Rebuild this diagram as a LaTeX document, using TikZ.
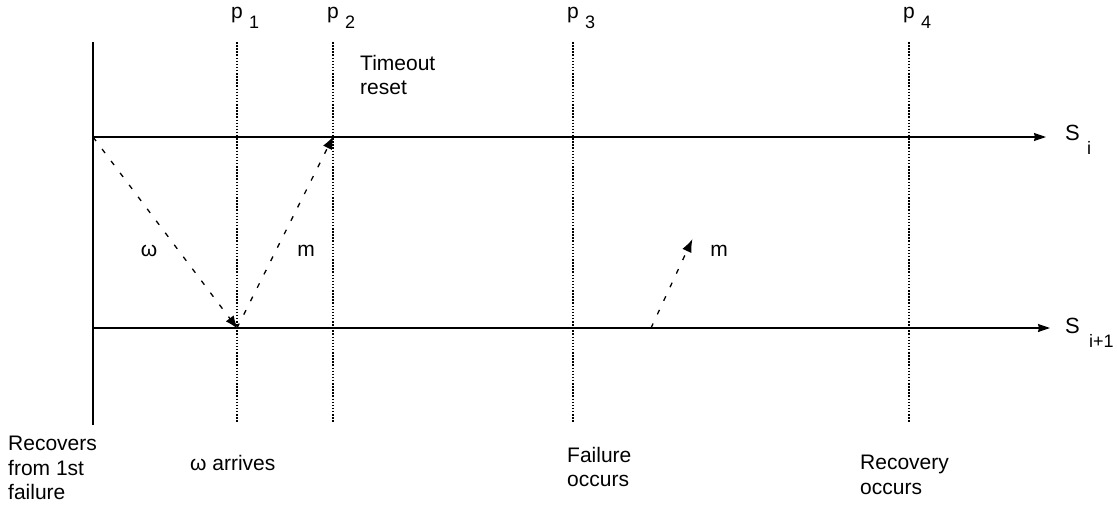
\documentclass[tikz,border=0pt]{standalone}
\usepackage{fontspec}
\setmainfont{Liberation Sans}
\usetikzlibrary{arrows.meta}
\begin{document}
\begin{tikzpicture}[x=1pt,y=-1pt,
  txt/.style={font=\fontsize{21}{24.5}\selectfont, inner sep=0pt, align=left},
  small/.style={font=\fontsize{18}{20}\selectfont, inner sep=0pt},
  timeline/.style={line width=1.3pt, -{Stealth[length=12pt,width=8pt,inset=1pt]}},
  procline/.style={line width=1.3pt, dash pattern=on 1.5pt off 1.6pt},
  msg/.style={line width=1.3pt, dash pattern=on 5pt off 10pt, -{Latex[length=13pt,width=10pt,sep=-1pt]}}]
\useasboundingbox (0,0) rectangle (1117,514);

% process boundary and observation instants
\draw[line width=1.3pt] (93,42) -- (93,425);
\foreach \n/\x in {1/237,2/333,3/573,4/909}{
  \draw[procline] (\x,42) -- (\x,422);
  \node[txt, anchor=base] (p\n) at (\x,19) {p};
  \node[small, anchor=base west] (p\n sub) at (\x+12,28) {\n};
}

% servers
\coordinate (si0) at (93,137);
\coordinate (si1) at (1046,137);
\coordinate (sj0) at (93,328);
\coordinate (sj1) at (1050,328);
\draw[timeline] (si0) -- (si1);
\draw[timeline] (sj0) -- (sj1);
\node[txt, anchor=base west, font=\fontsize{22}{24}\selectfont] (Si) at (1065,140) {S};
\node[small, anchor=base west] (Sisub) at (1087,154) {i};
\node[txt, anchor=base west, font=\fontsize{22}{24}\selectfont] (Sj) at (1065,333) {S};
\node[small, anchor=base west] (Sjsub) at (1089,347) {i+1};

% messages
\coordinate (w0) at (93,137);
\coordinate (w1) at (237,328);
\coordinate (m1) at (333,137);
\coordinate (n0) at (651,328);
\coordinate (n1) at (692,240);
\draw[msg] (w0) -- (w1);
\draw[msg] (w1) -- (m1);
\draw[msg] (n0) -- (n1);
\node[txt] (omega) at (149,251) {ω};
\node[txt] (mlab) at (306,251) {m};
\node[txt] (mlab2) at (719,251) {m};

% annotations
\node[txt, anchor=north west] (timeout) at (360,55) {Timeout\\reset};
\node[txt, anchor=north west] (recov1) at (8,436) {Recovers\\from 1st\\failure};
\node[txt, anchor=west] (arrive) at (190,463) {ω arrives};
\node[txt, anchor=north west] (fail) at (567,447) {Failure\\occurs};
\node[txt, anchor=north west] (recov2) at (860,455) {Recovery\\occurs};
\end{tikzpicture}
\end{document}
